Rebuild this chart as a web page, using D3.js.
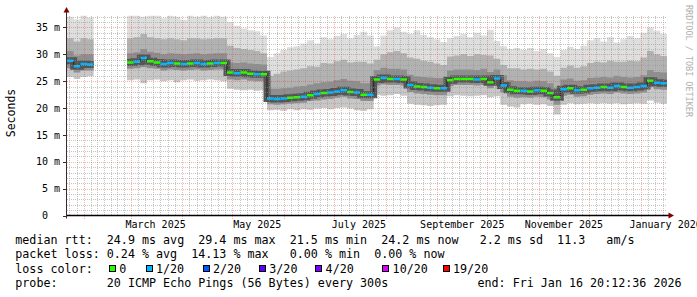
<!DOCTYPE html>
<html>
<head>
<meta charset="utf-8">
<script src="https://cdn.jsdelivr.net/npm/d3@7"></script>
<style>
body { margin: 0; background: #fff; }
svg text { font-family: "DejaVu Sans Mono", monospace; }
</style>
</head>
<body>
<svg id="chart" width="697" height="297"></svg>
<script>
// time range: last 360 days, one sample every 4 days
const endTime = Date.UTC(2026, 0, 16, 20, 12, 36);
const spanDays = 360;
const stepDays = 4;

// median rtt (ms), null = no data
const median = [28.8, 27.8, 28.2, 28.1, null, null, null, null, null,
  28.5, 28.6, 29.3, 28.7, 28.5, 28.2, 28.4, 28.3, 28.2, 28.3, 28.4, 28.2, 28.3, 28.4, 28.4,
  26.6, 26.5, 26.6, 26.4, 26.3, 26.3,
  21.8, 21.7, 21.8, 21.9, 22.0, 22.1, 22.4, 22.6, 22.8, 22.9, 23.1, 23.3, 23.0, 22.9, 22.5, 22.5,
  25.3, 25.6, 25.4, 25.4, 25.3, 24.3, 24.0, 23.9, 23.8, 23.7, 23.7,
  25.2, 25.4, 25.4, 25.4, 25.3, 25.4, 24.8, 25.5, 24.2,
  23.4, 23.2, 23.2, 23.1, 23.3, 23.2, 22.8, 22.0, 23.5, 23.7, 23.3, 23.4, 23.7, 23.8, 23.9,
  23.8, 24.1, 23.9, 23.8, 23.9, 24.1, 25.1, 24.7, 24.6];

// loss colour index per sample (0 = no loss, 1 = 1/20)
const loss = [1, 1, 1, 1, 0, 0, 0, 0, 0,
  0, 1, 1, 0, 0, 1, 1, 0, 1, 0, 1, 1, 0, 1, 0,
  0, 1, 0, 0, 1, 0,
  1, 1, 1, 0, 0, 1, 0, 1, 0, 1, 1, 1, 0, 1, 0, 1,
  0, 1, 0, 1, 0, 1, 0, 0, 1, 0, 1,
  0, 0, 0, 0, 1, 0, 0, 1, 1,
  0, 0, 1, 0, 1, 0, 0, 0, 1, 0, 1, 0, 1, 1, 0,
  1, 1, 0, 1, 1, 1, 0, 1, 1];

// smoke: lowest ping, lower mid band, upper dark band, upper mid band, highest ping
const smokeMin = [25.8, 25.4, 25.8, 25.9, null, null, null, null, null,
  25.2, 25.3, 24.6, 25.2, 25.3, 25.0, 25.2, 24.8, 25.2, 25.3, 25.1, 25.2, 25.3, 25.2, 25.0,
  23.6, 23.4, 23.3, 23.4, 23.2, 23.3,
  19.6, 19.7, 19.5, 19.8, 19.6, 19.8, 19.7, 19.9, 20.0, 19.8, 20.0, 20.1, 19.9, 19.6, 19.5, 19.8,
  22.5, 22.3, 22.4, 22.6, 22.3, 20.8, 20.6, 20.5, 20.4, 20.5, 20.6,
  22.2, 22.4, 22.3, 22.2, 22.3, 22.4, 22.0, 22.2, 20.6,
  20.3, 20.1, 20.7, 20.8, 20.6, 20.7, 20.4, 18.8, 20.6, 20.9, 20.7, 20.8, 20.9, 20.8, 20.9,
  20.8, 20.9, 20.7, 20.8, 20.9, 20.8, 21.4, 21.0, 20.8];
const smokeLo = [27.4, 26.6, 27.0, 27.0, null, null, null, null, null,
  27.3, 27.4, 27.6, 27.4, 27.3, 27.0, 27.2, 27.1, 27.0, 27.1, 27.2, 27.0, 27.1, 27.2, 27.2,
  25.3, 25.2, 25.3, 25.1, 25.0, 25.0,
  20.7, 20.6, 20.7, 20.8, 20.9, 21.0, 21.3, 21.4, 21.6, 21.7, 21.9, 22.1, 21.8, 21.7, 21.3, 21.3,
  24.2, 24.4, 24.3, 24.3, 24.2, 23.0, 22.7, 22.6, 22.5, 22.4, 22.4,
  24.1, 24.3, 24.3, 24.3, 24.2, 24.3, 23.7, 24.3, 22.9,
  22.1, 21.9, 22.0, 21.9, 22.1, 22.0, 21.6, 20.6, 22.3, 22.5, 22.1, 22.2, 22.5, 22.6, 22.7,
  22.6, 22.9, 22.7, 22.6, 22.7, 22.9, 23.9, 23.5, 23.4];
const smokeHi = [30.6, 29.8, 30.0, 30.0, null, null, null, null, null,
  30.2, 30.4, 31.0, 30.5, 30.3, 30.0, 30.2, 30.1, 30.0, 30.1, 30.2, 30.0, 30.1, 30.2, 30.2,
  28.5, 28.4, 28.5, 28.3, 28.2, 28.1,
  23.6, 23.6, 23.7, 23.8, 24.0, 24.1, 24.4, 24.6, 24.8, 24.9, 25.2, 25.4, 25.1, 25.0, 24.6, 24.6,
  27.1, 27.5, 27.3, 27.3, 27.2, 26.2, 25.9, 25.8, 25.7, 25.6, 25.6,
  27.0, 27.2, 27.2, 27.2, 27.1, 27.3, 26.7, 27.2, 26.1,
  25.2, 25.0, 25.0, 24.9, 25.1, 25.0, 24.6, 23.8, 25.3, 25.5, 25.1, 25.2, 25.6, 25.7, 25.8,
  25.7, 26.0, 25.8, 25.7, 25.8, 26.1, 27.1, 26.7, 26.6];
const smokeTop = [33.0, 32.4, 33.0, 32.8, null, null, null, null, null,
  33.0, 33.2, 33.8, 33.2, 33.0, 32.8, 33.0, 32.8, 32.6, 33.0, 33.0, 32.8, 32.9, 33.0, 33.0,
  31.6, 31.2, 31.0, 30.8, 30.6, 30.2,
  26.0, 26.4, 26.8, 27.0, 27.2, 27.4, 27.8, 27.7, 28.4, 28.3, 28.7, 29.0, 28.5, 28.6, 28.6, 28.3,
  29.0, 30.0, 30.4, 30.6, 30.2, 29.4, 29.2, 28.8, 28.6, 28.3, 28.0,
  29.6, 29.8, 30.0, 29.7, 30.0, 29.9, 29.8, 29.2, 28.0,
  27.4, 27.4, 27.2, 27.3, 27.2, 27.3, 26.8, 26.0, 27.5, 27.9, 27.5, 27.8, 28.4, 28.6, 28.5,
  28.8, 28.6, 28.6, 28.8, 28.7, 29.4, 30.6, 30.0, 29.7];
const smokeMax = [37.0, 36.5, 37.2, 36.8, null, null, null, null, null,
  37.2, 37.2, 37.0, 37.2, 37.2, 36.7, 37.2, 37.0, 36.4, 37.2, 37.0, 37.2, 36.9, 37.2, 37.0,
  36.0, 35.3, 34.8, 34.5, 34.3, 33.5,
  29.5, 30.2, 30.8, 31.3, 31.5, 32.0, 32.6, 32.0, 33.2, 32.8, 33.4, 33.8, 33.0, 33.6, 34.2, 33.5,
  31.5, 33.5, 34.5, 35.0, 34.2, 33.8, 34.5, 33.6, 33.2, 32.8, 32.3,
  33.0, 33.4, 33.8, 33.2, 34.0, 33.5, 34.6, 32.5, 31.5,
  31.0, 31.2, 30.8, 31.2, 30.6, 31.0, 30.2, 29.5, 30.8, 31.4, 31.0, 31.6, 32.6, 33.0, 32.4,
  33.2, 32.2, 32.8, 33.4, 33.0, 34.0, 35.0, 34.4, 33.8];

// axis texts
const yTicks = [0, 5, 10, 15, 20, 25, 30, 35];
const yTickLabels = ["0  ", "5 m", "10 m", "15 m", "20 m", "25 m", "30 m", "35 m"];
const monthLabels = ["March 2025", "May 2025", "July 2025", "September 2025", "November 2025", "January 2026"];

// legend
const lossLevels = ["0", "1/20", "2/20", "3/20", "4/20", "10/20", "19/20"];
const lossColors = ["#26ff00", "#00b8ff", "#0059ff", "#5e00ff", "#7e00ff", "#dd00ff", "#ff0000"];
const legendLines = [
  "median rtt:  24.9 ms avg  29.4 ms max  21.5 ms min  24.2 ms now   2.2 ms sd  11.3   am/s",
  "packet loss: 0.24 % avg  14.13 % max   0.00 % min  0.00 % now",
  "loss color:",
  "probe:       20 ICMP Echo Pings (56 Bytes) every 300s"
];
const endLabel = "end: Fri Jan 16 20:12:36 2026";

// keep runs of spaces (rrdtool legend is column aligned)
const keepSpaces = s => s.replace(/ /g, "\u00a0");

// layout
const plotLeft = 67, plotRight = 667, plotTop = 15.5, plotBottom = 215.5;
const yMax = 37.23;
const day = 86400e3;
const startTime = endTime - spanDays * day;

const svg = d3.select("#chart");
svg.append("rect").attr("width", 697).attr("height", 297).attr("fill", "#fff");

const x = d3.scaleUtc().domain([new Date(startTime), new Date(endTime)]).range([plotLeft, plotRight]);
const y = d3.scaleLinear().domain([0, yMax]).range([plotBottom, plotTop]);

// build step points: each sample is flat over its 4-day bucket
let pts = [];
median.forEach((m, i) => {
  let t0 = startTime + i * stepDays * day,
      t1 = Math.min(t0 + stepDays * day, endTime);
  if (m == null) { pts.push({gap: true}); return; }
  let v = {med: m, min: smokeMin[i], lo: smokeLo[i], hi: smokeHi[i], top: smokeTop[i], max: smokeMax[i]};
  pts.push(Object.assign({t: t0}, v), Object.assign({t: t1}, v));
});

svg.append("clipPath").attr("id", "plotclip")
  .append("rect").attr("x", plotLeft).attr("y", plotTop - 0.5)
  .attr("width", plotRight - plotLeft).attr("height", plotBottom - plotTop + 0.5);

const plot = svg.append("g").attr("clip-path", "url(#plotclip)");

function band(lo, hi) {
  return d3.area()
    .defined(d => !d.gap)
    .x(d => x(new Date(d.t)))
    .y0(d => y(d[lo]))
    .y1(d => y(d[hi]))(pts);
}

plot.append("path").attr("d", band("min", "max")).attr("fill", "#dedede");
plot.append("path").attr("d", band("min", "top")).attr("fill", "#000").attr("fill-opacity", 0.1);
plot.append("path").attr("d", band("lo", "top")).attr("fill", "#000").attr("fill-opacity", 0.1);
plot.append("path").attr("d", band("lo", "hi")).attr("fill", "#000").attr("fill-opacity", 0.2);

const medLine = d3.line()
  .defined(d => !d.gap)
  .x(d => x(new Date(d.t)))
  .y(d => y(d.med));

plot.append("path").attr("d", medLine(pts))
  .attr("fill", "none").attr("stroke", "#555").attr("stroke-width", 7);
plot.append("path").attr("d", medLine(pts))
  .attr("fill", "none").attr("stroke", "#222").attr("stroke-width", 1);

// coloured median segments
plot.selectAll("line.med")
  .data(median.map((m, i) => ({m: m, i: i})).filter(d => d.m != null))
  .join("line")
  .attr("class", "med")
  .attr("x1", d => x(new Date(startTime + d.i * stepDays * day)))
  .attr("x2", d => x(new Date(Math.min(startTime + (d.i + 1) * stepDays * day, endTime))))
  .attr("y1", d => y(d.m))
  .attr("y2", d => y(d.m))
  .attr("stroke", d => lossColors[loss[d.i]])
  .attr("stroke-width", 2.5);

// grid (drawn over the smoke like rrdtool)
const grid = svg.append("g").attr("stroke-dasharray", "1,1").attr("shape-rendering", "crispEdges");
const minorColor = "rgba(150,150,150,0.55)", majorColor = "rgba(222,48,47,0.35)";

// minor horizontal lines, every 1 ms
d3.range(1, Math.floor(yMax) + 1).filter(v => v % 5 != 0).forEach(v => {
  grid.append("line").attr("x1", plotLeft).attr("x2", plotRight)
    .attr("y1", Math.round(y(v)) + 0.5).attr("y2", Math.round(y(v)) + 0.5)
    .attr("stroke", minorColor);
});

// minor vertical lines, 7 per month
const months = d3.utcMonth.range(d3.utcMonth.floor(new Date(startTime)), new Date(endTime));
months.forEach(m => {
  let next = d3.utcMonth.offset(m, 1);
  for (let k = 1; k < 7; k++) {
    let t = new Date(+m + (next - m) * k / 7);
    if (t <= startTime || t >= endTime) continue;
    grid.append("line").attr("y1", plotTop).attr("y2", plotBottom)
      .attr("x1", Math.round(x(t)) + 0.5).attr("x2", Math.round(x(t)) + 0.5)
      .attr("stroke", minorColor);
  }
});

// major grid
yTicks.filter(v => v > 0).forEach(v => {
  grid.append("line").attr("x1", plotLeft).attr("x2", plotRight)
    .attr("y1", Math.round(y(v)) + 0.5).attr("y2", Math.round(y(v)) + 0.5)
    .attr("stroke", majorColor);
});
const monthStarts = d3.utcMonth.range(new Date(startTime), new Date(endTime));
monthStarts.forEach(m => {
  grid.append("line").attr("y1", plotTop).attr("y2", plotBottom + 3)
    .attr("x1", Math.round(x(m)) + 0.5).attr("x2", Math.round(x(m)) + 0.5)
    .attr("stroke", majorColor);
});

// axes
svg.append("line").attr("x1", plotLeft - 1).attr("x2", plotRight + 2).attr("y1", plotBottom).attr("y2", plotBottom)
  .attr("stroke", "#000").attr("stroke-width", 1.5);
svg.append("line").attr("x1", plotLeft - 0.5).attr("x2", plotLeft - 0.5).attr("y1", 10).attr("y2", plotBottom + 3)
  .attr("stroke", "#3a2c2c").attr("stroke-width", 1);
yTicks.forEach(v => {
  svg.append("line").attr("x1", plotLeft - 4).attr("x2", plotLeft - 1)
    .attr("y1", Math.round(y(v)) + 0.5).attr("y2", Math.round(y(v)) + 0.5)
    .attr("stroke", "#3a2c2c");
});
svg.append("path").attr("d", `M${plotLeft - 0.5},7 L${plotLeft - 3.5},12.5 L${plotLeft + 2.5},12.5 Z`).attr("fill", "#7f0000");
svg.append("path").attr("d", `M${plotRight + 7},${plotBottom} L${plotRight + 1.5},${plotBottom - 3} L${plotRight + 1.5},${plotBottom + 3} Z`).attr("fill", "#7f0000");

// y labels
svg.selectAll("text.ylab")
  .data(yTicks)
  .join("text")
  .attr("class", "ylab")
  .attr("x", 60)
  .attr("y", v => y(v) + 3.6)
  .attr("text-anchor", "end")
  .attr("font-size", "10px")
  .attr("fill", "#000")
  .text((v, i) => keepSpaces(yTickLabels[i]));

// x labels centred half a month after the month start
const parseMonth = d3.utcParse("%B %Y");
svg.selectAll("text.xlab")
  .data(monthLabels)
  .join("text")
  .attr("class", "xlab")
  .attr("x", s => x(d3.utcDay.offset(parseMonth(s), 15)))
  .attr("y", 228)
  .attr("text-anchor", "middle")
  .attr("font-size", "10px")
  .attr("fill", "#000")
  .text(s => s);

// unit label and watermark
svg.append("text")
  .attr("transform", "translate(14.5,113) rotate(-90)")
  .attr("text-anchor", "middle")
  .attr("font-size", "11.5px")
  .attr("fill", "#000")
  .text("Seconds");
svg.append("text")
  .attr("transform", "translate(685.5,5) rotate(90)")
  .attr("font-size", "8.5px")
  .attr("textLength", 112)
  .attr("lengthAdjust", "spacing")
  .attr("fill", "#b0b0b0")
  .text("RRDTOOL / TOBI OETIKER");

// legend
const baselines = [244, 258.3, 272.6, 286.9];
legendLines.forEach((s, i) => {
  svg.append("text").attr("x", 15.3).attr("y", baselines[i])
    .attr("font-size", "11.69px").attr("fill", "#000").text(keepSpaces(s));
});
const boxX = [109, 145.7, 202.7, 259, 315.3, 382.3, 442.7];
lossLevels.forEach((lab, i) => {
  svg.append("rect").attr("x", Math.round(boxX[i]) + 0.5).attr("y", 265.5)
    .attr("width", 6).attr("height", 6)
    .attr("fill", lossColors[i]).attr("stroke", "#000").attr("stroke-width", 1);
  svg.append("text").attr("x", boxX[i] + 10.3).attr("y", baselines[2])
    .attr("font-size", "11.69px").attr("fill", "#000").text(lab);
});
svg.append("text").attr("x", 477.5).attr("y", baselines[3])
  .attr("font-size", "11.69px").attr("fill", "#000").text(endLabel);
</script>
</body>
</html>
